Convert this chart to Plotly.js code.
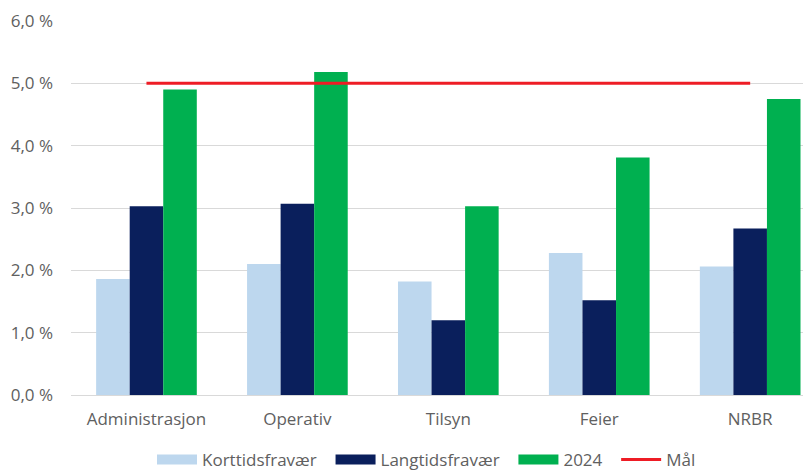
<!DOCTYPE html>
<html>
<head>
<meta charset="utf-8">
<script src="https://cdn.plot.ly/plotly-3.0.1.min.js"></script>
<style>html,body{margin:0;padding:0;background:#fff;}#chart{width:803px;height:470px;}</style>
</head>
<body>
<div id="chart"></div>
<script>
const categories = ["Administrasjon", "Operativ", "Tilsyn", "Feier", "NRBR"];
const korttid = [1.86, 2.10, 1.82, 2.28, 2.06];
const langtid = [3.03, 3.07, 1.20, 1.52, 2.67];
const total2024 = [4.90, 5.18, 3.03, 3.81, 4.75];
const maal = [5.0, 5.0, 5.0, 5.0, 5.0];
const seriesNames = ["Korttidsfravær", "Langtidsfravær", "2024", "Mål"];
const colors = ["#bdd7ee", "#0a1f5c", "#00b050", "#ee1c25"];
const yTicks = [0, 1, 2, 3, 4, 5, 6];
const yTickText = yTicks.map(v => v.toFixed(1).replace(".", ",") + " %");

const font = {family: "'Open Sans', sans-serif", size: 17, color: "#606060"};
const pad = "\u00a0\u00a0";

const barSeries = [korttid, langtid, total2024];
const traces = barSeries.map((vals, i) => ({
  type: "bar", x: categories, y: vals, name: seriesNames[i],
  marker: {color: colors[i]}, showlegend: false
}));
traces.push({
  type: "scatter", mode: "lines", x: categories, y: maal, name: seriesNames[3],
  line: {color: colors[3], width: 3}, showlegend: false
});
// legend entries
seriesNames.forEach((n, i) => {
  traces.push({
    type: "scatter", mode: "lines", x: [null], y: [null],
    name: i < 3 ? n + pad : n,
    line: {color: colors[i], width: i < 3 ? 10 : 3}, showlegend: true
  });
});

const layout = {
  width: 803, height: 470,
  margin: {l: 71, r: 0, t: 21, b: 75},
  paper_bgcolor: "#fff", plot_bgcolor: "#fff",
  font: font,
  barmode: "group", bargap: 0.333, bargroupgap: 0,
  xaxis: {
    range: [-0.5, 4.35], showgrid: false, showline: false, zeroline: false,
    ticks: "", tickfont: font, ticklabelstandoff: 12, fixedrange: true
  },
  yaxis: {
    range: [0, 6], tickvals: yTicks, ticktext: yTickText,
    showgrid: true, gridcolor: "#d9d9d9", gridwidth: 1,
    zeroline: true, zerolinecolor: "#d9d9d9", zerolinewidth: 1,
    showline: false, ticks: "", tickfont: font, ticklabelstandoff: 17, fixedrange: true
  },
  showlegend: true,
  legend: {
    orientation: "h", xref: "container", yref: "container",
    x: 152 / 803, xanchor: "left", y: 10 / 470, yanchor: "middle",
    font: font, itemwidth: 40, tracegroupgap: 0, bgcolor: "rgba(0,0,0,0)"
  }
};

Plotly.newPlot("chart", traces, layout, {displayModeBar: false, staticPlot: true});
</script>
</body>
</html>
